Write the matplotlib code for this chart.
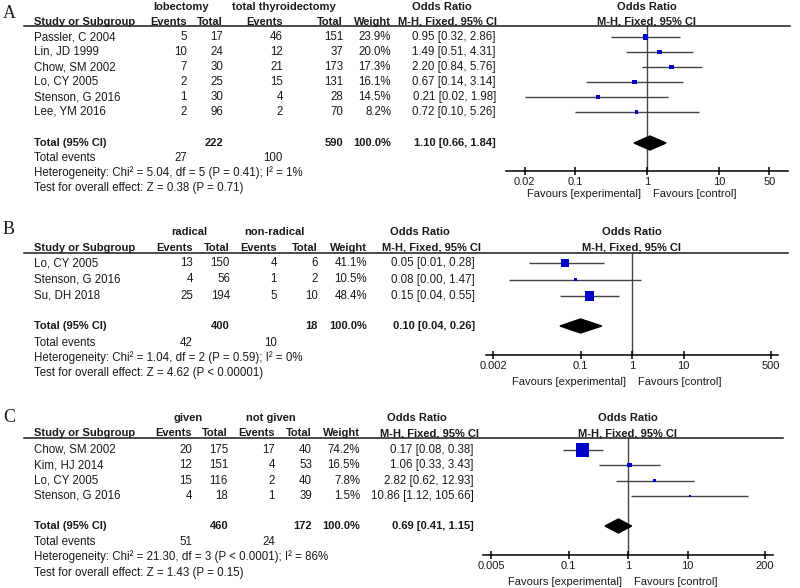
"""
Three stacked forest plots (RevMan style), odds ratios on a log axis.
Saves to out.png
"""
import matplotlib
matplotlib.use('Agg')
import matplotlib.pyplot as plt
from matplotlib.transforms import Affine2D, blended_transform_factory

W, H = 800, 588
BLUE = '#0000C8'
INK  = '#1a1a1a'
GREY = '#444444'
FS, FS_B, FS_AX = 8.3, 8.0, 8.0

plt.rcParams.update({
    'font.family': ['Liberation Sans', 'DejaVu Sans'],
    'font.size': FS,
    'text.color': INK,
})

# ── Panel A: lobectomy vs total thyroidectomy ────────────────────────────────
a_groups  = ['lobectomy', 'total thyroidectomy']
a_studies = ['Passler, C 2004', 'Lin, JD 1999', 'Chow, SM 2002',
             'Lo, CY 2005', 'Stenson, G 2016', 'Lee, YM 2016']
a_ev1 = [5, 10, 7, 2, 1, 2]
a_n1  = [17, 24, 30, 25, 30, 96]
a_ev2 = [46, 12, 21, 15, 4, 2]
a_n2  = [151, 37, 173, 131, 28, 70]
a_wt  = [23.9, 20.0, 17.3, 16.1, 14.5, 8.2]
a_or  = [0.95, 1.49, 2.20, 0.67, 0.21, 0.72]
a_lo  = [0.32, 0.51, 0.84, 0.14, 0.02, 0.10]
a_hi  = [2.86, 4.31, 5.76, 3.14, 1.98, 5.26]
a_tot = dict(n1=222, n2=590, ev1=27, ev2=100, est=1.10, lo=0.66, hi=1.84,
             het='Heterogeneity: Chi² = 5.04, df = 5 (P = 0.41); I² = 1%',
             test='Test for overall effect: Z = 0.38 (P = 0.71)')
a_ticks = [0.02, 0.1, 1, 10, 50]

# ── Panel B: radical vs non-radical ──────────────────────────────────────────
b_groups  = ['radical', 'non-radical']
b_studies = ['Lo, CY 2005', 'Stenson, G 2016', 'Su, DH 2018']
b_ev1 = [13, 4, 25]
b_n1  = [150, 56, 194]
b_ev2 = [4, 1, 5]
b_n2  = [6, 2, 10]
b_wt  = [41.1, 10.5, 48.4]
b_or  = [0.05, 0.08, 0.15]
b_lo  = [0.01, 0.004, 0.04]
b_hi  = [0.28, 1.47, 0.55]
b_tot = dict(n1=400, n2=18, ev1=42, ev2=10, est=0.10, lo=0.04, hi=0.26,
             het='Heterogeneity: Chi² = 1.04, df = 2 (P = 0.59); I² = 0%',
             test='Test for overall effect: Z = 4.62 (P < 0.00001)')
b_ticks = [0.002, 0.1, 1, 10, 500]

# ── Panel C: given vs not given ──────────────────────────────────────────────
c_groups  = ['given', 'not given']
c_studies = ['Chow, SM 2002', 'Kim, HJ 2014', 'Lo, CY 2005', 'Stenson, G 2016']
c_ev1 = [20, 12, 15, 4]
c_n1  = [175, 151, 116, 18]
c_ev2 = [17, 4, 2, 1]
c_n2  = [40, 53, 40, 39]
c_wt  = [74.2, 16.5, 7.8, 1.5]
c_or  = [0.17, 1.06, 2.82, 10.86]
c_lo  = [0.08, 0.33, 0.62, 1.12]
c_hi  = [0.38, 3.43, 12.93, 105.66]
c_tot = dict(n1=460, n2=172, ev1=51, ev2=24, est=0.69, lo=0.41, hi=1.15,
             het='Heterogeneity: Chi² = 21.30, df = 3 (P < 0.0001); I² = 86%',
             test='Test for overall effect: Z = 1.43 (P = 0.15)')
c_ticks = [0.005, 0.1, 1, 10, 200]

# ── Layout (pixel positions, y measured from top) ────────────────────────────
layout = {
    'A': dict(top=7, hdr=22, line=26, line_r=790, row0=37, dy=15, total=143,
              tev=158, het=173, test=188, axis=171, fav=194,
              ax_l=506, ax_r=788, dec=72,
              g1=181, g2=284, ev1=187, n1=223, ev2=283, n2=343,
              wt=391, orr=496, orc=442, mhc=448),
    'B': dict(top=232, hdr=248, line=253, line_r=788, row0=263, dy=16.5, total=326,
              tev=343, het=358, test=373, axis=355, fav=382,
              ax_l=486, ax_r=778, dec=51.5,
              g1=189, g2=274, ev1=193, n1=230, ev2=277, n2=318,
              wt=367, orr=475, orc=420, mhc=431),
    'C': dict(top=418, hdr=433, line=438, line_r=783, row0=450, dy=15.3, total=526,
              tev=542, het=557, test=573, axis=555, fav=582,
              ax_l=483, ax_r=773, dec=59.5,
              g1=188, g2=271, ev1=192, n1=228, ev2=275, n2=312,
              wt=360, orr=474, orc=417, mhc=430),
}
letter_y = {'A': 14, 'B': 230, 'C': 417}

fig = plt.figure(figsize=(W / 100, H / 100), dpi=100)
PX = Affine2D().scale(1 / W, -1 / H).translate(0, 1) + fig.transFigure


def txt(x, y, s, ha='left', bold=False, **kw):
    kw.setdefault('fontsize', FS_B if bold else FS)
    fig.text(x, y, s, transform=PX, ha=ha, va='center',
             fontweight='bold' if bold else 'normal', **kw)


def box_side(w):
    # square side in px grows with study weight
    return 1.8 + 0.155 * w


def draw_panel(key, groups, studies, ev1, n1, ev2, n2, wt, est, lo, hi, tot, ticks):
    L = layout[key]
    txt(3, letter_y[key], key, family='Liberation Serif', fontsize=13)

    # header rows
    txt(L['g1'], L['top'], groups[0], ha='center', bold=True)
    txt(L['g2'], L['top'], groups[1], ha='center', bold=True)
    txt(L['orc'], L['top'], 'Odds Ratio', ha='center', bold=True)
    txt(34, L['hdr'], 'Study or Subgroup', bold=True)
    txt(L['ev1'], L['hdr'], 'Events', ha='right', bold=True)
    txt(L['n1'], L['hdr'], 'Total', ha='right', bold=True)
    txt(L['ev2'], L['hdr'], 'Events', ha='right', bold=True)
    txt(L['n2'], L['hdr'], 'Total', ha='right', bold=True)
    txt(L['wt'], L['hdr'], 'Weight', ha='right', bold=True)
    txt(L['mhc'], L['hdr'], 'M-H, Fixed, 95% CI', ha='center', bold=True)
    fig.add_artist(plt.Line2D([24, L['line_r']], [L['line'], L['line']],
                              transform=PX, color=INK, lw=1.1))

    # study rows
    rows = [L['row0'] + i * L['dy'] for i in range(len(studies))]
    for i, y in enumerate(rows):
        txt(34, y, studies[i])
        txt(L['ev1'], y, str(ev1[i]), ha='right')
        txt(L['n1'], y, str(n1[i]), ha='right')
        txt(L['ev2'], y, str(ev2[i]), ha='right')
        txt(L['n2'], y, str(n2[i]), ha='right')
        txt(L['wt'], y, f'{wt[i]:.1f}%', ha='right')
        txt(L['orr'], y, f'{est[i]:.2f} [{lo[i]:.2f}, {hi[i]:.2f}]', ha='right')

    # totals
    txt(34, L['total'], 'Total (95% CI)', bold=True)
    txt(L['n1'], L['total'], str(tot['n1']), ha='right', bold=True)
    txt(L['n2'], L['total'], str(tot['n2']), ha='right', bold=True)
    txt(L['wt'], L['total'], '100.0%', ha='right', bold=True)
    txt(L['orr'], L['total'],
        f"{tot['est']:.2f} [{tot['lo']:.2f}, {tot['hi']:.2f}]", ha='right', bold=True)
    txt(34, L['tev'], 'Total events')
    txt(L['ev1'], L['tev'], str(tot['ev1']), ha='right')
    txt(L['ev2'], L['tev'], str(tot['ev2']), ha='right')
    txt(34, L['het'], tot['het'])
    txt(34, L['test'], tot['test'])

    # forest axes: x log OR, y in pixel rows
    ax = fig.add_axes([L['ax_l'] / W, 1 - L['axis'] / H,
                       (L['ax_r'] - L['ax_l']) / W, (L['axis'] - L['line']) / H])
    ax.set_xscale('log')
    half = (L['ax_r'] - L['ax_l']) / 2 / L['dec']   # 1 sits mid-axis
    ax.set_xlim(10 ** (-half), 10 ** half)
    ax.set_ylim(L['axis'], L['line'])
    ax.patch.set_alpha(0)
    for s in ('top', 'left', 'right'):
        ax.spines[s].set_visible(False)
    ax.spines['bottom'].set_linewidth(1.1)
    ax.set_yticks([])
    ax.set_xticks(ticks)
    ax.set_xticklabels([f'{t:g}' for t in ticks])
    ax.minorticks_off()
    ax.tick_params(axis='x', direction='inout', length=6, width=1.1, pad=1.5,
                   labelsize=FS_AX, labelcolor=INK)

    ax.axvline(1, color=GREY, lw=1.0, zorder=1)
    ax.hlines(rows, lo, hi, color=GREY, lw=1.0, zorder=2)
    ax.scatter(est, rows, marker='s', color=BLUE, zorder=3, linewidths=0,
               s=[(box_side(w) * 0.72) ** 2 for w in wt])
    ty, hh = L['total'], 7
    ax.fill([tot['lo'], tot['est'], tot['hi'], tot['est']],
            [ty, ty - hh, ty, ty + hh], color='black', zorder=3, clip_on=False)

    blend = blended_transform_factory(ax.transData, PX)
    txt_kw = dict(xycoords=blend, textcoords='offset points', va='center',
                  fontsize=FS_AX)
    ax.annotate('Favours [experimental]', xy=(1, L['fav']), xytext=(-4, 0),
                ha='right', **txt_kw)
    ax.annotate('Favours [control]', xy=(1, L['fav']), xytext=(4, 0),
                ha='left', **txt_kw)
    ax.text(1, L['top'], 'Odds Ratio', transform=blend, ha='center', va='center',
            fontweight='bold', fontsize=FS_B)
    ax.text(1, L['hdr'], 'M-H, Fixed, 95% CI', transform=blend, ha='center',
            va='center', fontweight='bold', fontsize=FS_B)


draw_panel('A', a_groups, a_studies, a_ev1, a_n1, a_ev2, a_n2, a_wt,
           a_or, a_lo, a_hi, a_tot, a_ticks)
draw_panel('B', b_groups, b_studies, b_ev1, b_n1, b_ev2, b_n2, b_wt,
           b_or, b_lo, b_hi, b_tot, b_ticks)
draw_panel('C', c_groups, c_studies, c_ev1, c_n1, c_ev2, c_n2, c_wt,
           c_or, c_lo, c_hi, c_tot, c_ticks)

fig.savefig('out.png', dpi=100, facecolor='white')
